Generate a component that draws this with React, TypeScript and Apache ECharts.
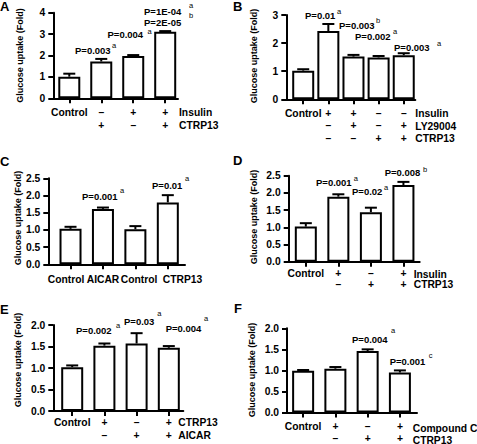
import React, { useEffect, useRef } from "react";
import * as echarts from "echarts";

const FONT = '"Liberation Sans", Arial, Helvetica, sans-serif';

// ---------- Panel A ----------
const aRow1 = ["Control", "–", "+", "+"];
const aRow2 = ["", "+", "–", "+"];
const aRowNames = ["Insulin", "CTRP13"];
const aMeans = [1.01, 1.72, 1.98, 3.11];
const aUpper = [1.15, 1.84, 2.02, 3.14];
const aYTicks = [0, 1, 2, 3, 4];
const aPText = ["P=0.003", "P=0.004", "P=1E-04", "P=2E-05"];
const aPSup = ["a", "a", "a", "b"];

// ---------- Panel B ----------
const bRow1 = ["Control", "+", "+", "–", "–"];
const bRow2 = ["", "–", "+", "–", "+"];
const bRow3 = ["", "–", "–", "+", "+"];
const bRowNames = ["Insulin", "LY29004", "CTRP13"];
const bMeans = [1.02, 2.43, 1.52, 1.49, 1.57];
const bUpper = [1.07, 2.68, 1.58, 1.54, 1.64];
const bYTicks = [0, 1, 2, 3];
const bPText = ["P=0.01", "P=0.003", "P=0.002", "P=0.003"];
const bPSup = ["a", "b", "a", "a"];

// ---------- Panel C ----------
const cRow1 = ["Control", "AICAR", "Control", "CTRP13"];
const cRowNames: string[] = [];
const cMeans = [1.03, 1.61, 1.02, 1.8];
const cUpper = [1.09, 1.65, 1.11, 2.01];
const cYTicks = [0, 0.5, 1.0, 1.5, 2.0, 2.5];
const cPText = ["P=0.001", "P=0.01"];
const cPSup = ["a", "a"];

// ---------- Panel D ----------
const dRow1 = ["Control", "+", "–", "+"];
const dRow2 = ["", "–", "+", "+"];
const dRowNames = ["Insulin", "CTRP13"];
const dMeans = [1.02, 1.89, 1.44, 2.23];
const dUpper = [1.12, 1.96, 1.57, 2.32];
const dYTicks = [0, 0.5, 1.0, 1.5, 2.0, 2.5];
const dPText = ["P=0.001", "P=0.02", "P=0.008"];
const dPSup = ["a", "a", "b"];

// ---------- Panel E ----------
const eRow1 = ["Control", "+", "–", "+"];
const eRow2 = ["", "–", "+", "+"];
const eRowNames = ["CTRP13", "AICAR"];
const eMeans = [1.02, 1.52, 1.57, 1.47];
const eUpper = [1.06, 1.57, 1.81, 1.51];
const eYTicks = [0, 0.5, 1.0, 1.5, 2.0];
const ePText = ["P=0.002", "P=0.03", "P=0.004"];
const ePSup = ["a", "a", "a"];

// ---------- Panel F ----------
const fRow1 = ["Control", "+", "–", "+"];
const fRow2 = ["", "–", "+", "+"];
const fRowNames = ["Compound C", "CTRP13"];
const fMeans = [0.99, 1.04, 1.46, 0.95];
const fUpper = [1.01, 1.08, 1.5, 1.0];
const fYTicks = [0, 0.5, 1.0, 1.5, 2.0];
const fPText = ["P=0.004", "P=0.001"];
const fPSup = ["a", "c"];

const Y_TITLE = "Glucose uptake (Fold)";

// ---------- layout (positions & styles only) ----------
type Layout = {
  letter: string;
  letterPos: [number, number];
  grid: [number, number, number, number];
  xMin: number;
  xMax: number;
  decimals: number;
  labelMargin: number;
  lineHeight: number;
  titlePos: [number, number];
  rowNameX: number;
  rowNameY: number[];
  pPos: [number, number][];
  supPos: [number, number][];
  freeLabels?: { y: number; x: number[] };
};

const panels = [
  {
    rows: [aRow1, aRow2], rowNames: aRowNames, means: aMeans, upper: aUpper, yTicks: aYTicks, pText: aPText, pSup: aPSup,
    layout: {
      letter: "A", letterPos: [0, 6], grid: [53.3, 12.7, 124.7, 85.6], xMin: 0.5, xMax: 4.4, decimals: 0,
      labelMargin: 7.3, lineHeight: 13.5, titlePos: [20, 55.5], rowNameX: 179, rowNameY: [112.3, 125.7],
      pPos: [[75, 50], [107.5, 34.5], [144, 11], [144, 22]],
      supPos: [[112, 45], [147.5, 31], [189, 5], [189, 15]],
    } as Layout,
  },
  {
    rows: [bRow1, bRow2, bRow3], rowNames: bRowNames, means: bMeans, upper: bUpper, yTicks: bYTicks, pText: bPText, pSup: bPSup,
    layout: {
      letter: "B", letterPos: [233, 6], grid: [286.3, 15, 129, 84.3], xMin: 0.327, xMax: 5.46, decimals: 0,
      labelMargin: 7.8, lineHeight: 12.5, titlePos: [253.5, 56], rowNameX: 415.3, rowNameY: [113.3, 126, 138.3],
      pPos: [[305, 15.7], [339, 25], [355, 36], [394, 47.7]],
      supPos: [[337, 11], [376, 20.7], [393, 31.7], [437, 43.3]],
    } as Layout,
  },
  {
    rows: [cRow1], rowNames: cRowNames, means: cMeans, upper: cUpper, yTicks: cYTicks, pText: cPText, pSup: cPSup,
    layout: {
      letter: "C", letterPos: [0, 161], grid: [48.3, 178.3, 136.7, 86], xMin: 0.315, xMax: 4.53, decimals: 1,
      labelMargin: 9, lineHeight: 12, titlePos: [18, 218], rowNameX: 0, rowNameY: [],
      pPos: [[82, 196], [152, 185]],
      supPos: [[120, 190.7], [185, 178]],
      freeLabels: { y: 279.3, x: [66, 103, 139, 182.5] },
    } as Layout,
  },
  {
    rows: [dRow1, dRow2], rowNames: dRowNames, means: dMeans, upper: dUpper, yTicks: dYTicks, pText: dPText, pSup: dPSup,
    layout: {
      letter: "D", letterPos: [233, 160.5], grid: [288.7, 175.7, 131, 86], xMin: 0.474, xMax: 4.5, decimals: 1,
      labelMargin: 7, lineHeight: 10.5, titlePos: [253.5, 217], rowNameX: 413.7, rowNameY: [274, 284.5],
      pPos: [[316, 182.7], [352, 191.7], [384.7, 172.7]],
      supPos: [[353.7, 178.3], [384, 187.3], [423, 169.3]],
    } as Layout,
  },
  {
    rows: [eRow1, eRow2], rowNames: eRowNames, means: eMeans, upper: eUpper, yTicks: eYTicks, pText: ePText, pSup: ePSup,
    layout: {
      letter: "E", letterPos: [0, 309], grid: [53.3, 325, 130, 86], xMin: 0.413, xMax: 4.45, decimals: 1,
      labelMargin: 5, lineHeight: 12.7, titlePos: [18, 360], rowNameX: 178.3, rowNameY: [422.3, 435],
      pPos: [[76, 330], [124, 321], [165.7, 328.3]],
      supPos: [[116, 325], [157.3, 313.3], [204, 318.3]],
    } as Layout,
  },
  {
    rows: [fRow1, fRow2], rowNames: fRowNames, means: fMeans, upper: fUpper, yTicks: fYTicks, pText: fPText, pSup: fPSup,
    layout: {
      letter: "F", letterPos: [234, 308.5], grid: [287, 328.3, 130, 85.7], xMin: 0.5, xMax: 4.53, decimals: 1,
      labelMargin: 8.5, lineHeight: 11.5, titlePos: [252, 370], rowNameX: 412.7, rowNameY: [428.5, 440],
      pPos: [[352, 339], [389.7, 361]],
      supPos: [[391, 330], [428.7, 355.7]],
    } as Layout,
  },
];

const LABEL_SIZE = 10.3;
const P_SIZE = 9.5;
const SUP_SIZE = 7.5;
const TITLE_SIZE = 9;
const LETTER_SIZE = 13;

function txt(x: number, y: number, text: string, size: number, opts: any = {}) {
  return {
    type: "text",
    x,
    y,
    rotation: opts.rotation || 0,
    silent: true,
    style: {
      text,
      fill: "#000",
      fontSize: size,
      fontWeight: opts.weight || "bold",
      fontFamily: FONT,
      align: opts.align || "left",
      verticalAlign: opts.vAlign || "middle",
    },
  };
}

function buildOption() {
  const grid: any[] = [];
  const xAxis: any[] = [];
  const yAxis: any[] = [];
  const series: any[] = [];
  const graphic: any[] = [];

  panels.forEach((p, i) => {
    const L = p.layout;
    const n = p.means.length;
    const positions = p.means.map((_, k) => k + 1);
    grid.push({ left: L.grid[0], top: L.grid[1], width: L.grid[2], height: L.grid[3], containLabel: false });

    xAxis.push({
      type: "value",
      gridIndex: i,
      min: L.xMin,
      max: L.xMax,
      splitLine: { show: false },
      axisLine: { show: true, onZero: false, lineStyle: { color: "#000", width: 2 } },
      axisTick: { show: true, customValues: positions, length: 5, lineStyle: { color: "#000", width: 2 } },
      axisLabel: {
        show: !L.freeLabels,
        customValues: positions,
        showMinLabel: true,
        showMaxLabel: true,
        hideOverlap: false,
        margin: L.labelMargin,
        lineHeight: L.lineHeight,
        color: "#000",
        fontSize: LABEL_SIZE,
        fontWeight: "bold",
        fontFamily: FONT,
        formatter: (v: number) => {
          const k = Math.round(v) - 1;
          if (k < 0 || k >= n) return "";
          const lines = p.rows.map((r) => r[k]);
          while (lines.length > 1 && lines[lines.length - 1] === "") lines.pop();
          return lines.join("\n");
        },
      },
    });

    const yMax = p.yTicks[p.yTicks.length - 1];
    const step = p.yTicks[1] - p.yTicks[0];
    yAxis.push({
      type: "value",
      gridIndex: i,
      min: p.yTicks[0],
      max: yMax,
      interval: step,
      splitLine: { show: false },
      axisLine: { show: true, onZero: false, lineStyle: { color: "#000", width: 2 } },
      axisTick: { show: true, length: 5, lineStyle: { color: "#000", width: 2 } },
      axisLabel: {
        margin: 8,
        showMinLabel: true,
        showMaxLabel: true,
        color: "#000",
        fontSize: LABEL_SIZE,
        fontWeight: "bold",
        fontFamily: FONT,
        formatter: (v: number) => v.toFixed(L.decimals),
      },
    });

    series.push({
      type: "bar",
      xAxisIndex: i,
      yAxisIndex: i,
      barWidth: 22,
      data: p.means.map((m, k) => [k + 1, m]),
      itemStyle: { color: "#fff", borderColor: "#000", borderWidth: 2 },
      silent: true,
      z: 2,
    });

    series.push({
      type: "custom",
      xAxisIndex: i,
      yAxisIndex: i,
      encode: { x: 0, y: [1, 2] },
      data: p.means.map((m, k) => [k + 1, m, p.upper[k]]),
      z: 3,
      silent: true,
      renderItem: (params: any, api: any) => {
        const x = api.value(0);
        const p0 = api.coord([x, api.value(1)]);
        const p1 = api.coord([x, api.value(2)]);
        const st = { stroke: "#000", lineWidth: 2 };
        return {
          type: "group",
          children: [
            { type: "line", shape: { x1: p0[0], y1: p0[1], x2: p1[0], y2: p1[1] }, style: st },
            { type: "line", shape: { x1: p1[0] - 6, y1: p1[1], x2: p1[0] + 6, y2: p1[1] }, style: st },
          ],
        };
      },
    });

    if (L.freeLabels) {
      p.rows[0].forEach((t, k) => {
        graphic.push(txt(L.freeLabels!.x[k], L.freeLabels!.y, t, LABEL_SIZE, { align: "center" }));
      });
    }
    graphic.push(txt(L.letterPos[0], L.letterPos[1], L.letter, LETTER_SIZE));
    graphic.push(txt(L.titlePos[0], L.titlePos[1], Y_TITLE, TITLE_SIZE, { rotation: Math.PI / 2, align: "center" }));
    p.rowNames.forEach((name, r) => {
      graphic.push(txt(L.rowNameX, L.rowNameY[r], name, LABEL_SIZE));
    });
    p.pText.forEach((t, k) => {
      graphic.push(txt(L.pPos[k][0], L.pPos[k][1], t, P_SIZE));
      graphic.push(txt(L.supPos[k][0], L.supPos[k][1], p.pSup[k], SUP_SIZE, { weight: "normal" }));
    });
  });

  return {
    animation: false,
    backgroundColor: "#fff",
    grid,
    xAxis,
    yAxis,
    series,
    graphic: { elements: graphic },
  };
}

export default function App() {
  const ref = useRef<HTMLDivElement>(null);
  useEffect(() => {
    if (!ref.current) return;
    const chart = echarts.init(ref.current, undefined, { renderer: "svg" });
    chart.setOption(buildOption() as any);
    return () => chart.dispose();
  }, []);
  return (
    <div
      ref={ref}
      style={{ position: "fixed", left: 0, top: 0, width: 477, height: 444, background: "#fff" }}
    />
  );
}
